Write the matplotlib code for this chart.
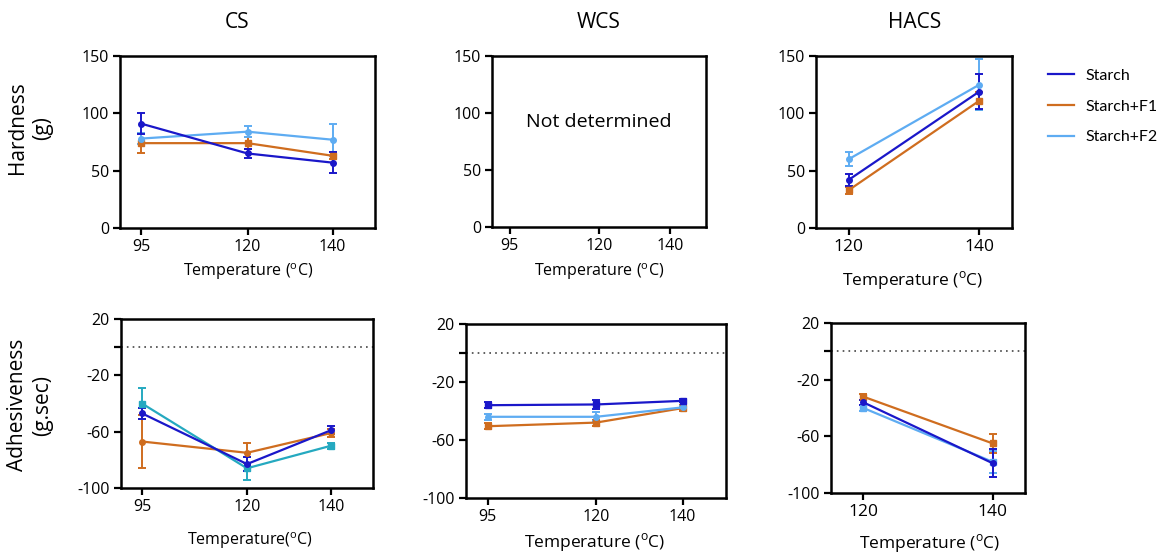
import numpy as np
import matplotlib
matplotlib.use("Agg")
import matplotlib.pyplot as plt
from matplotlib.lines import Line2D

plt.rcParams['font.family'] = ['Open Sans', 'DejaVu Sans']

# colours for the three samples
c_starch = '#1a17c9'
c_f1 = '#cf6d1f'
c_f2 = '#5eacf2'
c_teal = '#25a9c0'   # CS adhesiveness uses a teal line for F2

series = ['Starch', 'Starch+F1', 'Starch+F2']

# ---- Hardness (g) ----
cs_temp = [95, 120, 140]
cs_hard_starch = [91, 65, 57]
cs_hard_starch_err = [9, 4, 9]
cs_hard_f1 = [74, 74, 63]
cs_hard_f1_err = [9, 5, 3]
cs_hard_f2 = [78, 84, 77]
cs_hard_f2_err = [5, 5, 14]

hacs_temp = [120, 140]
hacs_hard_starch = [42, 119]
hacs_hard_starch_err = [5, 15]
hacs_hard_f1 = [33, 111]
hacs_hard_f1_err = [3, 8]
hacs_hard_f2 = [60, 125]
hacs_hard_f2_err = [6, 22]

# ---- Adhesiveness (g.sec) ----
cs_adh_starch = [-47, -83, -59]
cs_adh_starch_err = [4, 5, 3]
cs_adh_f1 = [-67, -75, -61]
cs_adh_f1_err = [19, 7, 3]
cs_adh_f2 = [-40, -86, -70]
cs_adh_f2_err = [11, 8, 2]

wcs_temp = [95, 120, 140]
wcs_adh_starch = [-36, -35.5, -33]
wcs_adh_starch_err = [2, 3, 1]
wcs_adh_f1 = [-50.5, -48, -38]
wcs_adh_f1_err = [2, 2, 2]
wcs_adh_f2 = [-44, -44, -37.5]
wcs_adh_f2_err = [2, 3, 1]

hacs_adh_starch = [-36, -79]
hacs_adh_starch_err = [2, 10]
hacs_adh_f1 = [-32, -65]
hacs_adh_f1_err = [2, 7]
hacs_adh_f2 = [-40, -78]
hacs_adh_f2_err = [2, 8]

W, H = 1169, 554
fig = plt.figure(figsize=(W / 100, H / 100), dpi=100)


def pax(l, r, t, b):
    return fig.add_axes([l / W, (H - b) / H, (r - l) / W, (b - t) / H])


def style(ax):
    for s in ax.spines.values():
        s.set_linewidth(1.8)
    ax.tick_params(width=1.6, length=5, labelsize=11.5, direction='out',
                   pad=3)


def draw(ax, x, y, e, color, marker):
    ax.errorbar(x, y, yerr=e, color=color, marker=marker, markersize=4,
                lw=1.6, capsize=3, elinewidth=1.4, capthick=1.4)


# top row
ax1 = pax(120, 375, 56, 228)
draw(ax1, cs_temp, cs_hard_f1, cs_hard_f1_err, c_f1, 's')
draw(ax1, cs_temp, cs_hard_f2, cs_hard_f2_err, c_f2, 'o')
draw(ax1, cs_temp, cs_hard_starch, cs_hard_starch_err, c_starch, 'o')

ax2 = pax(492, 706, 56, 227)
ax2.text(0.5, 0.615, 'Not determined', transform=ax2.transAxes,
         ha='center', va='center', fontsize=14)

ax3 = pax(816, 1012, 56, 228)
draw(ax3, hacs_temp, hacs_hard_f1, hacs_hard_f1_err, c_f1, 's')
draw(ax3, hacs_temp, hacs_hard_f2, hacs_hard_f2_err, c_f2, 'o')
draw(ax3, hacs_temp, hacs_hard_starch, hacs_hard_starch_err, c_starch, 'o')

for ax in (ax1, ax2, ax3):
    ax.set_ylim(0, 150)
    ax.set_yticks([0, 50, 100, 150])
    style(ax)
for ax in (ax1, ax2):
    ax.set_xlim(90, 150)
    ax.set_xticks(cs_temp)
ax3.set_xlim(115, 145)
ax3.set_xticks(hacs_temp)
ax3.tick_params(axis='x', labelsize=12.5)

# bottom row
ax4 = pax(121, 373, 319, 488)
draw(ax4, cs_temp, cs_adh_f1, cs_adh_f1_err, c_f1, 'o')
draw(ax4, cs_temp, cs_adh_f2, cs_adh_f2_err, c_teal, 's')
draw(ax4, cs_temp, cs_adh_starch, cs_adh_starch_err, c_starch, 'o')

ax5 = pax(466, 726, 324, 498)
draw(ax5, wcs_temp, wcs_adh_f1, wcs_adh_f1_err, c_f1, 's')
draw(ax5, wcs_temp, wcs_adh_f2, wcs_adh_f2_err, c_f2, 'o')
draw(ax5, wcs_temp, wcs_adh_starch, wcs_adh_starch_err, c_starch, 's')

ax6 = pax(831, 1025, 323, 493)
draw(ax6, hacs_temp, hacs_adh_f2, hacs_adh_f2_err, c_f2, 's')
draw(ax6, hacs_temp, hacs_adh_f1, hacs_adh_f1_err, c_f1, 's')
draw(ax6, hacs_temp, hacs_adh_starch, hacs_adh_starch_err, c_starch, 'o')

for ax in (ax4, ax5, ax6):
    ax.set_ylim(-100, 20)
    ax.set_yticks([-100, -60, -20, 0, 20])
    ax.set_yticklabels(['-100', '-60', '-20', '', '20'])
    ax.axhline(0, ls=(0, (1, 2.5)), color='#444444', lw=1.2, zorder=0)
    style(ax)
for ax in (ax4, ax5):
    ax.set_xlim(90, 150)
    ax.set_xticks(cs_temp)
ax6.set_xlim(115, 145)
ax6.set_xticks(hacs_temp)
ax6.tick_params(axis='x', labelsize=12.5)

# column titles
fig.text(237 / W, 1 - 22 / H, 'CS', ha='center', va='center', fontsize=15)
fig.text(599 / W, 1 - 22 / H, 'WCS', ha='center', va='center', fontsize=15)
fig.text(915 / W, 1 - 22 / H, 'HACS', ha='center', va='center', fontsize=15)

# row labels
fig.text(30 / W, 1 - 128 / H, 'Hardness\n(g)', rotation=90, ha='center',
         va='center', fontsize=15, linespacing=1.25)
fig.text(30 / W, 1 - 405 / H, 'Adhesiveness\n(g.sec)', rotation=90,
         ha='center', va='center', fontsize=15, linespacing=1.25)

# x axis titles
deg = '($^{\\mathregular{o}}$C)'
fig.text(248 / W, 1 - 272 / H, 'Temperature ' + deg,
         ha='center', va='center', fontsize=11.5)
fig.text(599 / W, 1 - 272 / H, 'Temperature ' + deg,
         ha='center', va='center', fontsize=11.5)
fig.text(913 / W, 1 - 281 / H, 'Temperature ' + deg,
         ha='center', va='center', fontsize=12.5)
fig.text(250 / W, 1 - 541 / H, 'Temperature' + deg,
         ha='center', va='center', fontsize=11.5)
fig.text(595 / W, 1 - 543 / H, 'Temperature ' + deg,
         ha='center', va='center', fontsize=12.5)
fig.text(930 / W, 1 - 544 / H, 'Temperature ' + deg,
         ha='center', va='center', fontsize=12.5)

# legend (Lato is a bit narrower, so the labels fit at a larger size)
handles = [Line2D([], [], color=c, lw=1.6) for c in (c_starch, c_f1, c_f2)]
fig.legend(handles, series, loc='upper left',
           bbox_to_anchor=(1034 / W, 1 - 54 / H), frameon=False,
           prop={'family': ['Lato', 'DejaVu Sans'], 'size': 11.5},
           handlelength=1.6, labelspacing=1.05, handletextpad=0.75)

fig.savefig('out.png', dpi=100)
